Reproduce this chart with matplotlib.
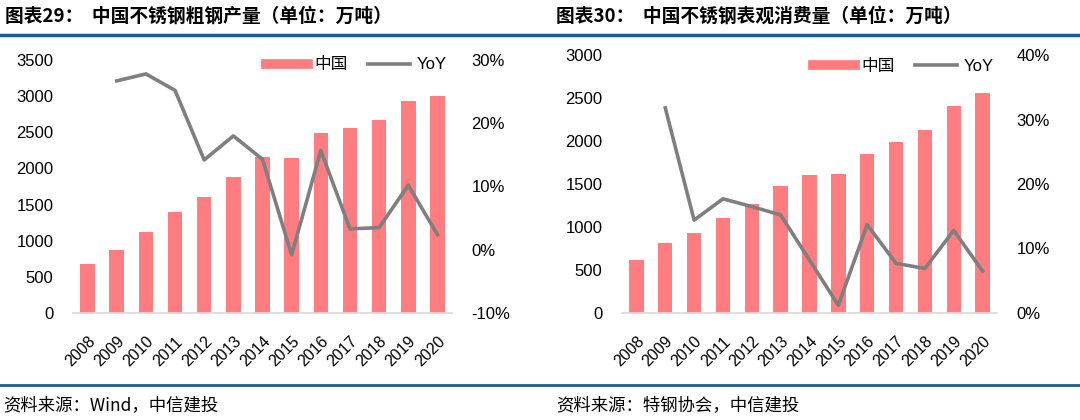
import numpy as np
import matplotlib
matplotlib.use('Agg')
import matplotlib.pyplot as plt
from matplotlib.lines import Line2D
from matplotlib.ticker import FuncFormatter

plt.rcParams['font.family'] = ['Liberation Sans', 'Noto Sans CJK SC', 'DejaVu Sans']

years = ['2008', '2009', '2010', '2011', '2012', '2013', '2014',
         '2015', '2016', '2017', '2018', '2019', '2020']

# 图表29: 不锈钢粗钢产量 (万吨) and YoY (%)
output_vals = [681, 866, 1119, 1404, 1602, 1888, 2155, 2150, 2486, 2564, 2666, 2937, 3002]
output_yoy = [np.nan, 26.7, 27.8, 25.2, 14.2, 18.0, 14.3, -0.8, 15.7, 3.3, 3.5, 10.2, 2.4]

# 图表30: 不锈钢表观消费量 (万吨) and YoY (%)
consume_vals = [621, 819, 935, 1099, 1273, 1479, 1599, 1619, 1848, 1988, 2127, 2403, 2554]
consume_yoy = [np.nan, 31.8, 14.4, 17.7, 16.5, 15.2, 8.2, 1.2, 13.7, 7.7, 6.9, 12.8, 6.5]

titles = ['图表29：  中国不锈钢粗钢产量（单位：万吨）',
          '图表30：  中国不锈钢表观消费量（单位：万吨）']
sources = ['资料来源：Wind，中信建投', '资料来源：特钢协会，中信建投']

BAR_COLOR = '#FF7C80'
LINE_COLOR = '#7F7F7F'
RULE_COLOR = '#1F5C8B'
W, H = 1080, 420


def px_axes(fig, x0, x1, y_top, y_bottom):
    return fig.add_axes([x0 / W, 1 - y_bottom / H, (x1 - x0) / W, (y_bottom - y_top) / H])


def draw_panel(ax, vals, yoy, ylim, ystep, rlim, rstep, legend_pos):
    x = np.arange(len(years))
    ax.bar(x, vals, width=0.5, color=BAR_COLOR, zorder=2)
    ax.set_xlim(-0.5, len(years) - 0.5)
    ax.set_ylim(*ylim)
    ax.set_yticks(np.arange(ylim[0], ylim[1] + 1, ystep))
    ax.set_xticks(x)
    ax.set_xticklabels(years, rotation=45, ha='right', rotation_mode='anchor', fontsize=11.5)
    for s in ['top', 'right', 'left']:
        ax.spines[s].set_visible(False)
    ax.spines['bottom'].set_color('#D9D9D9')
    ax.spines['bottom'].set_linewidth(1.2)
    ax.tick_params(axis='both', length=0, labelsize=12, colors='#000000')
    ax.tick_params(axis='x', pad=15, labelsize=11.5)
    ax.tick_params(axis='y', pad=14)

    ax2 = ax.twinx()
    ax2.plot(x, yoy, color=LINE_COLOR, lw=2.6, zorder=3)
    ax2.set_ylim(*rlim)
    ax2.set_yticks(np.arange(rlim[0], rlim[1] + 1, rstep))
    ax2.yaxis.set_major_formatter(FuncFormatter(lambda v, p: f'{v:.0f}%'))
    for s in ['top', 'right', 'left', 'bottom']:
        ax2.spines[s].set_visible(False)
    ax2.tick_params(axis='y', length=0, labelsize=12, pad=14)

    handles = [Line2D([0], [0], color=BAR_COLOR, lw=7),
               Line2D([0], [0], color=LINE_COLOR, lw=2.6)]
    ax2.legend(handles, ['中国', 'YoY'], loc='upper left', bbox_to_anchor=legend_pos,
               frameon=False, ncol=2, fontsize=12, handlelength=2.5,
               handletextpad=0.4, columnspacing=1.2, borderpad=0, borderaxespad=0)


fig = plt.figure(figsize=(W / 100, H / 100), dpi=100)

ax_l = px_axes(fig, 73, 452, 60, 313)
draw_panel(ax_l, output_vals, output_yoy, (0, 3500), 500, (-10, 30), 10, (0.51, 1.01))

ax_r = px_axes(fig, 622, 997, 55, 313)
draw_panel(ax_r, consume_vals, consume_yoy, (0, 3000), 500, (0, 40), 10, (0.51, 0.985))

# titles and rules
fig.text(5 / W, 1 - 16 / H, titles[0], fontsize=13.5, fontweight='bold',
         family=['Noto Sans CJK SC'], va='center', ha='left')
fig.text(556 / W, 1 - 16 / H, titles[1], fontsize=13.5, fontweight='bold',
         family=['Noto Sans CJK SC'], va='center', ha='left')
fig.add_artist(Line2D([0, 1], [1 - 35 / H, 1 - 35 / H], color=RULE_COLOR, lw=2.5,
                      transform=fig.transFigure))
fig.add_artist(Line2D([0, 1], [1 - 385 / H, 1 - 385 / H], color=RULE_COLOR, lw=2.0,
                      transform=fig.transFigure))

fig.text(3 / W, 1 - 405 / H, sources[0], fontsize=12.5, style='italic',
         family=['Noto Sans CJK SC'], va='center', ha='left')
fig.text(556 / W, 1 - 405 / H, sources[1], fontsize=12.5, style='italic',
         family=['Noto Sans CJK SC'], va='center', ha='left')

fig.savefig('out.png', dpi=100)
